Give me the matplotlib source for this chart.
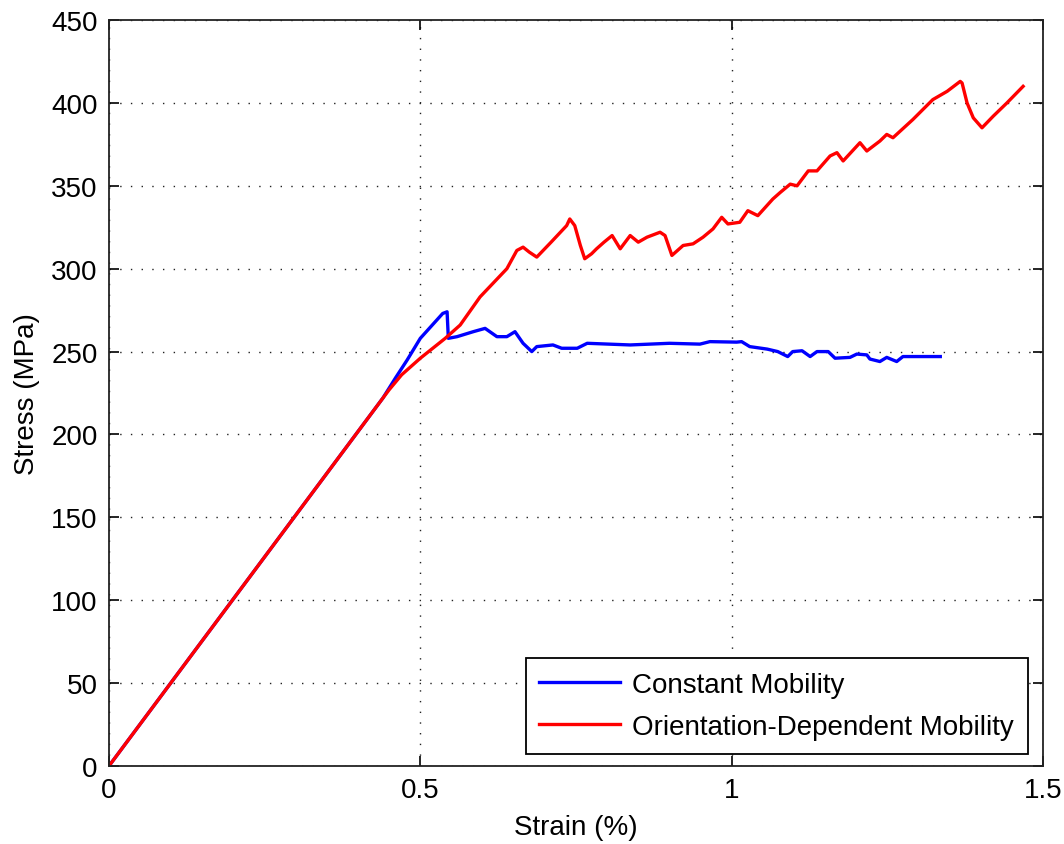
import matplotlib
matplotlib.use("Agg")
import matplotlib.pyplot as plt

# Stress-strain response for two mobility models
const_strain = [0.0, 0.44, 0.46, 0.479, 0.5, 0.536, 0.543, 0.545, 0.559, 0.585, 0.604,
                0.623, 0.639, 0.652, 0.665, 0.679, 0.687, 0.713, 0.727, 0.752, 0.768,
                0.837, 0.9, 0.949, 0.965, 1.008, 1.016, 1.029, 1.057, 1.074, 1.090,
                1.098, 1.113, 1.126, 1.137, 1.155, 1.166, 1.190, 1.201, 1.217, 1.222,
                1.238, 1.249, 1.265, 1.275, 1.335]
const_stress = [0, 222, 234, 245, 258, 273, 274, 258, 259, 262, 264,
                259, 259, 262, 255, 250, 253, 254, 252, 252, 255,
                254, 255, 254.5, 256, 255.7, 256, 253, 251.5, 250, 247,
                250, 250.5, 247, 250, 250, 246, 246.5, 248.5, 248, 245.5,
                244, 246.5, 244, 247, 247]

orient_strain = [0.0, 0.44, 0.45, 0.47, 0.5, 0.54, 0.564, 0.596, 0.639, 0.655, 0.665,
                 0.675, 0.687, 0.71, 0.735, 0.740, 0.748, 0.757, 0.764, 0.775, 0.783,
                 0.795, 0.808, 0.821, 0.837, 0.850, 0.864, 0.885, 0.893, 0.904, 0.922,
                 0.938, 0.954, 0.970, 0.984, 0.994, 1.013, 1.026, 1.042, 1.066, 1.078,
                 1.094, 1.105, 1.123, 1.137, 1.158, 1.169, 1.179, 1.206, 1.217, 1.238,
                 1.249, 1.259, 1.291, 1.323, 1.346, 1.367, 1.370, 1.378, 1.388, 1.402,
                 1.420, 1.442, 1.468]
orient_stress = [0, 222, 227, 236, 246, 258, 266, 283, 300, 311, 313,
                 310, 307, 316, 326, 330, 326, 314, 306, 309, 312,
                 316, 320, 312, 320, 316, 319, 322, 320, 308, 314,
                 315, 319, 324, 331, 327, 328, 335, 332, 342, 346,
                 351, 350, 359, 359, 368, 370, 365, 376, 371, 377,
                 381, 379, 390, 402, 407, 413, 412, 400, 391, 385,
                 392, 400, 410]

x_ticks = [0, 0.5, 1, 1.5]
x_tick_labels = ["0", "0.5", "1", "1.5"]
y_ticks = list(range(0, 451, 50))

plt.rcParams['font.family'] = ['Liberation Sans', 'DejaVu Sans']

fig = plt.figure(figsize=(10.64, 8.45), dpi=100)
ax = fig.add_axes([0.1024, 0.0923, 0.8779, 0.8828])

ax.plot(const_strain, const_stress, color=(0, 0, 1), lw=2.4, label="Constant Mobility")
ax.plot(orient_strain, orient_stress, color=(1, 0, 0), lw=2.4,
        label="Orientation-Dependent Mobility")

ax.set_xlim(0, 1.5)
ax.set_ylim(0, 450)
ax.set_xticks(x_ticks)
ax.set_xticklabels(x_tick_labels)
ax.set_yticks(y_ticks)

ax.grid(True, color='#222222', linestyle=(0, (1, 6.7)), linewidth=1.0)
ax.tick_params(direction='in', length=7, width=1.2, top=True, right=True,
               labelsize=20, pad=8, colors='black')
for s in ax.spines.values():
    s.set_linewidth(1.3)
    s.set_color('#222222')

ax.set_xlabel("Strain (%)", fontsize=20, labelpad=8)
ax.set_ylabel("Stress (MPa)", fontsize=20, labelpad=8)

leg = ax.legend(loc='lower right', bbox_to_anchor=(0.984, 0.016), fontsize=20,
                fancybox=False, framealpha=1, edgecolor='black',
                handlelength=2.9, handletextpad=0.45, labelspacing=0.6,
                borderpad=0.5, borderaxespad=0)
leg.get_frame().set_linewidth(1.3)

fig.savefig("out.png", dpi=100)
